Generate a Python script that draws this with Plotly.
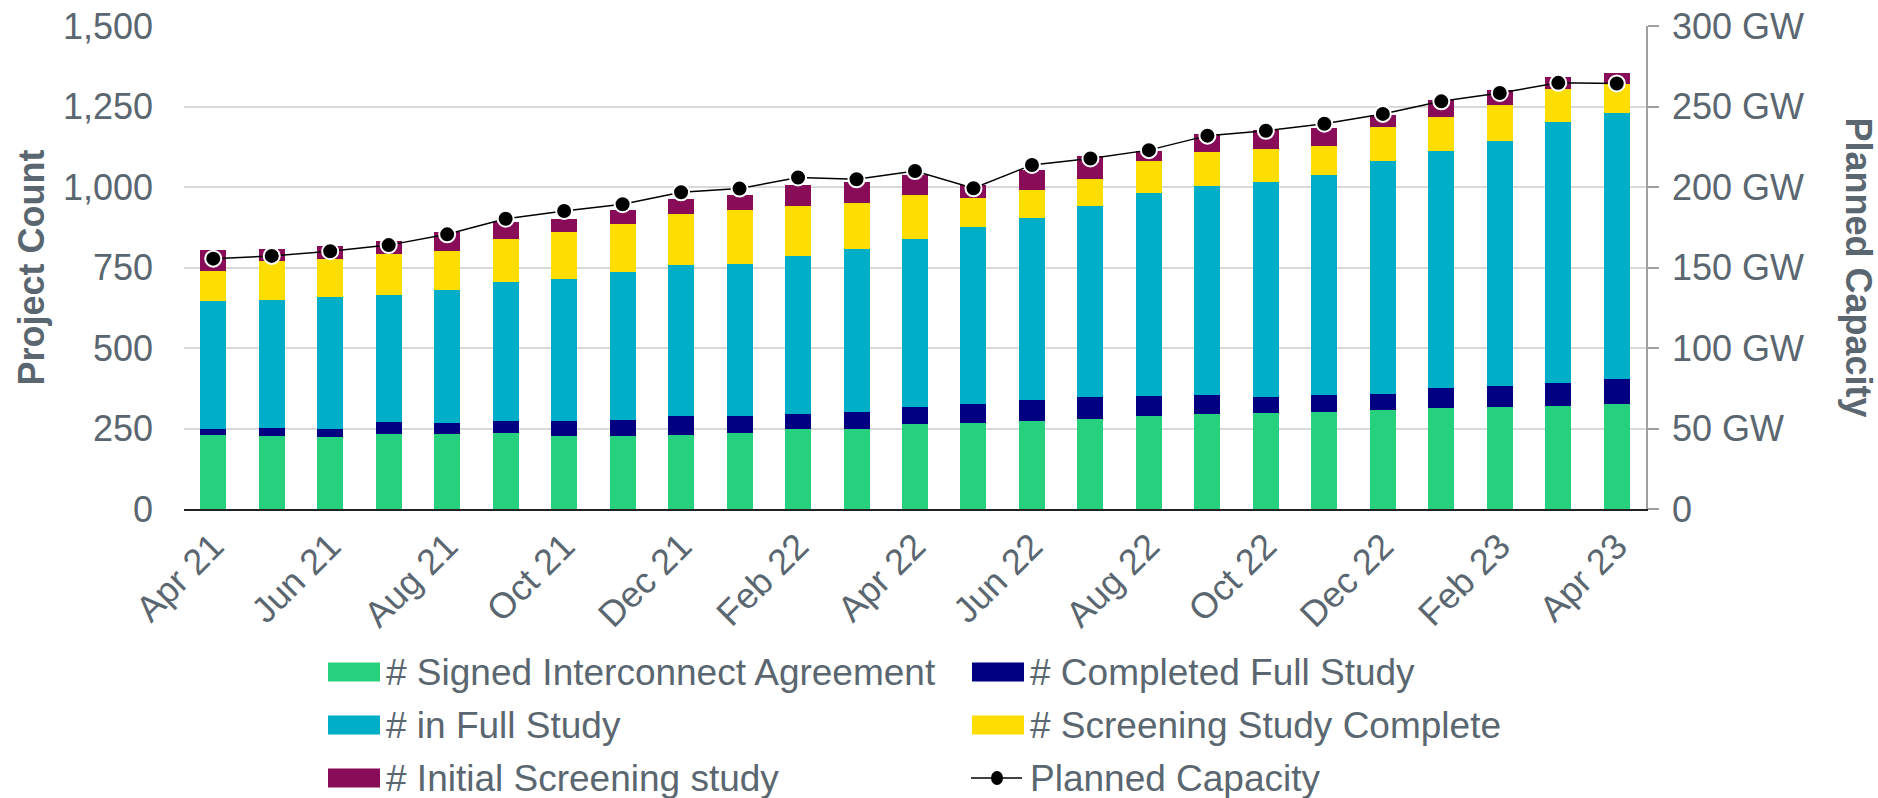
import plotly.graph_objects as go

months = ["Apr 21", "May 21", "Jun 21", "Jul 21", "Aug 21", "Sep 21", "Oct 21", "Nov 21",
          "Dec 21", "Jan 22", "Feb 22", "Mar 22", "Apr 22", "May 22", "Jun 22", "Jul 22",
          "Aug 22", "Sep 22", "Oct 22", "Nov 22", "Dec 22", "Jan 23", "Feb 23", "Mar 23", "Apr 23"]

signed = [230, 227, 224, 234, 232, 236, 227, 227, 229, 236, 250, 250, 264, 268, 274, 279, 288,
          295, 299, 302, 308, 314, 316, 320, 325]
completed = [18, 26, 26, 37, 34, 38, 47, 50, 61, 54, 46, 50, 54, 57, 63, 70, 64, 58, 49, 51, 50,
             63, 67, 72, 78]
in_full = [399, 396, 409, 395, 413, 430, 441, 460, 469, 470, 491, 506, 519, 552, 566, 591, 630,
           650, 669, 685, 724, 735, 761, 811, 826]
screening_complete = [93, 120, 116, 127, 122, 133, 144, 147, 156, 170, 153, 143, 139, 89, 88, 86,
                      99, 107, 101, 89, 103, 106, 110, 101, 90]
initial = [64, 38, 42, 39, 60, 53, 43, 46, 49, 44, 66, 65, 60, 39, 63, 69, 32, 56, 58, 57, 40, 52,
           48, 38, 34]
capacity = [155.5, 157.2, 160.1, 163.9, 170.6, 180.3, 185.1, 189.3, 196.7, 199.0, 205.9, 204.8,
            209.9, 199.2, 213.7, 217.7, 222.9, 231.9, 234.9, 239.3, 245.4, 253.2, 258.4, 264.7, 264.3]

left_ticks = [0, 250, 500, 750, 1000, 1250, 1500]
right_ticks = [0, 50, 100, 150, 200, 250, 300]
right_ticktext = ["0", "50 GW", "100 GW", "150 GW", "200 GW", "250 GW", "300 GW"]

names = ["# Signed Interconnect Agreement", "# Completed Full Study", "# in Full Study",
         "# Screening Study Complete", "# Initial Screening study"]
colors = ["#26D07C", "#000080", "#00AEC7", "#FEDD00", "#890C58"]
line_name = "Planned Capacity"

FONT = "Liberation Sans, Arial, sans-serif"
GRAY = "#5a6670"

W, H = 1878, 798
ML, MR, MT, MB = 184, 232, 26, 289
PW, PH = W - ML - MR, H - MT - MB


def px(x):
    return (x - ML) / PW


def py(y):
    return (H - MB - y) / PH


fig = go.Figure()
for name, vals, col in zip(names, [signed, completed, in_full, screening_complete, initial], colors):
    fig.add_trace(go.Bar(x=months, y=vals, name=name, showlegend=False,
                         marker=dict(color=col, line=dict(width=0))))

fig.add_trace(go.Scatter(
    x=months, y=capacity, name=line_name, yaxis="y2", mode="lines+markers", showlegend=False,
    line=dict(color="black", width=1.5),
    marker=dict(color="black", size=16, line=dict(color="white", width=2)),
))

# custom legend (two columns, three rows)
shapes = []
annotations = []
col_sw_x = [(328, 380), (972, 1024)]
col_tx_x = [385, 1029]
row_y = [672, 725, 778]
entries = [(names[0], colors[0]), (names[1], colors[1]), (names[2], colors[2]),
           (names[3], colors[3]), (names[4], colors[4]), (line_name, None)]
for i, (label, col) in enumerate(entries):
    r, c = divmod(i, 2)
    x0, x1 = col_sw_x[c]
    yc = row_y[r]
    if col is not None:
        shapes.append(dict(type="rect", xref="paper", yref="paper",
                           x0=px(x0), x1=px(x1), y0=py(yc + 9.5), y1=py(yc - 9.5),
                           fillcolor=col, line=dict(width=0)))
    else:
        shapes.append(dict(type="line", xref="paper", yref="paper",
                           x0=px(x0 - 1), x1=px(x1 - 2), y0=py(yc), y1=py(yc),
                           line=dict(color="black", width=1.5)))
        shapes.append(dict(type="circle", xref="paper", yref="paper",
                           x0=px(991), x1=px(1003), y0=py(yc + 7), y1=py(yc - 7),
                           fillcolor="black", line=dict(color="black", width=0)))
    annotations.append(dict(text=label, xref="paper", yref="paper", x=px(col_tx_x[c]), y=py(yc),
                            xanchor="left", yanchor="middle", showarrow=False, borderpad=0,
                            font=dict(size=37, color=GRAY, family=FONT)))

annotations.append(dict(text="<b>Project Count</b>", xref="paper", yref="paper", x=px(31), y=0.5,
                        xanchor="center", yanchor="middle", textangle=-90, showarrow=False,
                        font=dict(size=36, color=GRAY)))
annotations.append(dict(text="<b>Planned Capacity</b>", xref="paper", yref="paper", x=px(1858),
                        y=0.5, xanchor="center", yanchor="middle", textangle=90, showarrow=False,
                        font=dict(size=36, color=GRAY)))

fig.update_layout(
    width=W, height=H,
    margin=dict(l=ML, r=MR, t=MT, b=MB, autoexpand=False),
    barmode="stack", bargap=0.555,
    plot_bgcolor="white", paper_bgcolor="white",
    font=dict(family=FONT, size=36, color=GRAY),
    showlegend=False,
    xaxis=dict(
        type="category", range=[-0.5, len(months) - 0.5], tickvals=months[::2], tickangle=-45,
        tickfont=dict(size=36, color=GRAY),
        showline=True, linecolor="#222222", linewidth=1.5,
        showgrid=False, ticks="",
    ),
    yaxis=dict(
        range=[0, 1500], tickvals=left_ticks, tickformat=",",
        showgrid=True, gridcolor="#d9d9d9", gridwidth=1.5,
        zeroline=False, showline=False, ticks="",
        tickfont=dict(size=36, color=GRAY), ticklabelstandoff=30,
    ),
    yaxis2=dict(
        range=[0, 300], overlaying="y", side="right",
        tickvals=right_ticks, ticktext=right_ticktext,
        showgrid=False, zeroline=False,
        showline=True, linecolor="#a0a0a0", linewidth=1.5,
        ticks="outside", ticklen=11, tickcolor="#a0a0a0", tickwidth=1.5,
        tickfont=dict(size=36, color=GRAY), ticklabelstandoff=6,
    ),
    shapes=shapes,
    annotations=annotations,
)

fig.write_html("out.html", config={"displayModeBar": False},
               post_script="document.body.style.margin='0';")
